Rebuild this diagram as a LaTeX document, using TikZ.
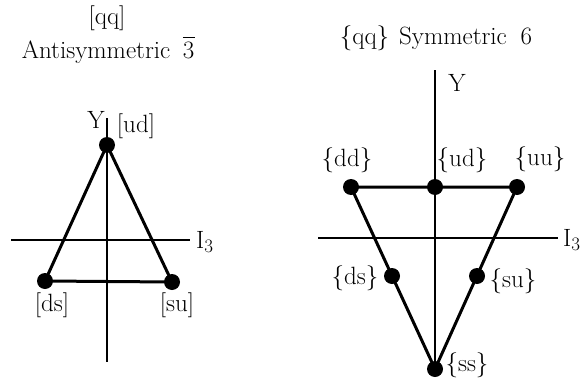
\documentclass[tikz,border=0pt]{standalone}
\usepackage{fontspec}
\begin{document}
\begin{tikzpicture}[x=1pt,y=-1pt,
  dot/.style={circle,fill=black,inner sep=0pt,minimum size=16pt},
  lab/.style={font=\fontsize{25}{29}\selectfont,inner sep=0pt},
  tri/.style={line width=3pt},
  axis/.style={line width=1.8pt}]
\newcommand{\isub}{I\raisebox{-0.4ex}{\fontsize{19}{22}\selectfont 3}}
\newcommand{\threebar}{\makebox[0pt][l]{\raisebox{0.8em}{\rule{0.5em}{1.3pt}}}3}
\useasboundingbox (0,0) rectangle (581,380);
% ---------- left: antisymmetric 3bar ----------
\coordinate (lYt) at (107,118);
\coordinate (lYb) at (107,362);
\coordinate (lXl) at (11,240);
\coordinate (lXr) at (190,240);
\draw[axis] (lYt) -- (lYb);
\draw[axis] (lXl) -- (lXr);
\node[dot] (lud) at (107,145) {};
\node[dot] (lds) at (45,281) {};
\node[dot] (lsu) at (172,282) {};
\draw[tri] (lud.center) -- (lds.center) -- (lsu.center) -- cycle;
\node[lab] (t1) at (107,18) {[qq]};
\node[lab] (t2) at (108,50) {Antisymmetric\hspace{0.5em}\threebar};
\node[lab] (lY) at (96,120) {Y};
\node[lab] (lI) [anchor=west] at (196,242) {\isub};
\node[lab] (lLud) at (136,126) {[ud]};
\node[lab] (lLds) at (52,305) {[ds]};
\node[lab] (lLsu) at (177,305) {[su]};
% ---------- right: symmetric 6 ----------
\coordinate (rYt) at (435,70);
\coordinate (rYb) at (435,370);
\coordinate (rXl) at (318,238);
\coordinate (rXr) at (558,238);
\draw[axis] (rYt) -- (rYb);
\draw[axis] (rXl) -- (rXr);
\node[dot] (rdd) at (351,187) {};
\node[dot] (rud) at (435,187) {};
\node[dot] (ruu) at (517,187) {};
\node[dot] (rds) at (392,276) {};
\node[dot] (rsu) at (477,276) {};
\node[dot] (rss) at (435,369) {};
\draw[tri] (rdd.center) -- (ruu.center) -- (rss.center) -- cycle;
\node[lab] (t3) at (436,38) {\{qq\}\hspace{0.4em}Symmetric\hspace{0.55em}6};
\node[lab] (rY) at (457,83) {Y};
\node[lab] (rI) [anchor=west] at (563,240) {\isub};
\node[lab] (rLdd) at (347,160) {\{dd\}};
\node[lab] (rLud) at (462,160) {\{ud\}};
\node[lab] (rLuu) at (540,159) {\{uu\}};
\node[lab] (rLds) at (355,278) {\{ds\}};
\node[lab] (rLsu) at (513,281) {\{su\}};
\node[lab] (rLss) at (467,365) {\{ss\}};
\end{tikzpicture}
\end{document}
